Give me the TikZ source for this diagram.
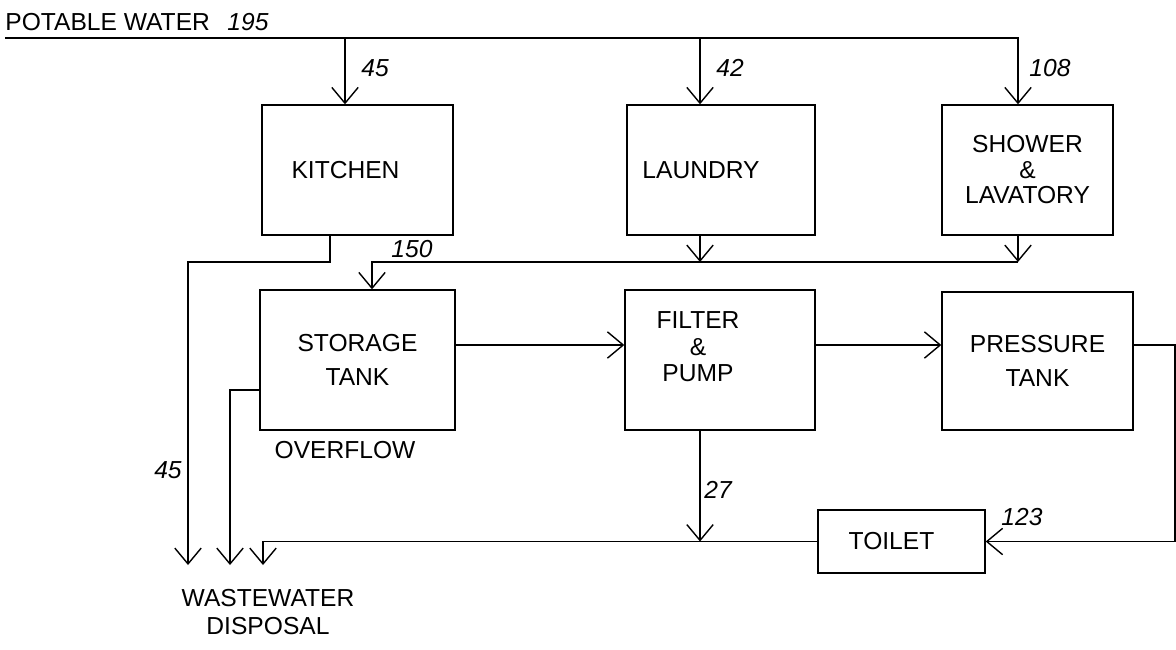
\documentclass[tikz,border=0pt]{standalone}
\usepackage{fontspec}
\setmainfont{Liberation Sans}
\usetikzlibrary{arrows.meta,calc,positioning}

\tikzset{
  unit/.style={draw, line width=0.8pt, align=center, inner sep=0pt,
    font=\fontsize{14}{17}\selectfont},
  pipe/.style={line width=0.8pt},
  flow/.style={line width=0.8pt,
    -{Straight Barb[length=9pt,width=15pt,line width=0.8pt]}},
  qty/.style={font=\fontsize{14}{17}\selectfont\itshape, inner sep=1pt},
  tag/.style={font=\fontsize{14}{17}\selectfont, align=center, inner sep=0pt}
}

\begin{document}
\begin{tikzpicture}[x=0.02cm,y=-0.02cm]
\useasboundingbox (0,0) rectangle (1176,649);

% Define the units.
\node[unit,minimum width=3.82cm,minimum height=2.6cm,
  label={[tag,xshift=-0.24cm]center:KITCHEN}] (kitchen) at (357.5,170) {};
\node[unit,minimum width=3.76cm,minimum height=2.6cm,
  label={[tag,xshift=-0.4cm]center:LAUNDRY}] (laundry) at (721,170) {};
\node[unit,minimum width=3.42cm,minimum height=2.6cm,
  font=\fontsize{14}{14.5}\selectfont] (shower) at (1027.5,170) {SHOWER\\\&\\LAVATORY};
\node[unit,minimum width=3.9cm,minimum height=2.8cm,
  font=\fontsize{14}{19}\selectfont] (storage) at (357.5,360) {STORAGE\\TANK};
\node[unit,minimum width=3.8cm,minimum height=2.8cm,
  label={[tag,font=\fontsize{14}{15}\selectfont,xshift=-0.44cm,yshift=0.26cm]center:FILTER\\\&\\PUMP}]
  (filter) at (720,360) {};
\node[unit,minimum width=3.82cm,minimum height=2.76cm,
  font=\fontsize{14}{19}\selectfont] (pressure) at (1037.5,361) {PRESSURE\\TANK};
\node[unit,minimum width=3.34cm,minimum height=1.26cm,
  label={[tag,xshift=-0.2cm]center:TOILET}] (toilet) at (901.5,541.5) {};

% Define the pipe points.
\coordinate (main) at (5,38);
\coordinate (drain) at (0,262);
\coordinate (edge) at (1175,0);
\coordinate (w1) at (188,565);
\coordinate (w2) at (230,565);
\coordinate (w3) at (263,565);

\coordinate (kin) at ([xshift=-0.25cm]kitchen.north);
\coordinate (lin) at ([xshift=-0.42cm]laundry.north);
\coordinate (sin) at ([xshift=-0.19cm]shower.north);
\coordinate (kout) at ([xshift=-0.55cm]kitchen.south);
\coordinate (lout) at (lin |- laundry.south);
\coordinate (sout) at (sin |- shower.south);
\coordinate (stin) at ([xshift=0.29cm]storage.north);
\coordinate (stout) at ([yshift=0.3cm]storage.east);
\coordinate (ov) at ([yshift=-0.6cm]storage.west);
\coordinate (fout) at ([xshift=-0.4cm]filter.south);

% Potable water.
\draw[flow] (main) -| (sin);
\draw[flow] (main -| kin) -- (kin);
\draw[flow] (main -| lin) -- (lin);

% Grey water.
\draw[flow] (kout) |- (drain -| w1) -- (w1);
\draw[flow] (lout) -- (lout |- drain);
\draw[flow] (sout) -- (sout |- drain);
\draw[flow] (drain -| sin) -| (stin);

\draw[flow] (stout) -- (stout -| filter.west);
\draw[flow] (stout -| filter.east) -- (stout -| pressure.west);
\draw[flow] (stout -| pressure.east) -- (stout -| edge) |- (toilet.east);
\draw[flow] (fout) -- (fout |- toilet.west);
\draw[flow] (toilet.west) -| (w3);
\draw[flow] (ov) -| (w2);

% Labels.
\node[tag,anchor=west] (potable) at (5,22) {POTABLE WATER};
\node[qty] (q195) at (248,22) {195};
\node[qty] (q45a) at (375,68) {45};
\node[qty] (q42) at (730,68) {42};
\node[qty] (q108) at (1050,68) {108};
\node[qty] (q150) at (412,249) {150};
\node[qty] (q45b) at (168,470) {45};
\node[qty] (q27) at (718,490) {27};
\node[qty] (q123) at (1022,517) {123};
\node[tag] (overflow) at (345,450) {OVERFLOW};
\node[tag,font=\fontsize{14}{16}\selectfont] (waste) at (268,612) {WASTEWATER\\DISPOSAL};

\end{tikzpicture}
\end{document}
